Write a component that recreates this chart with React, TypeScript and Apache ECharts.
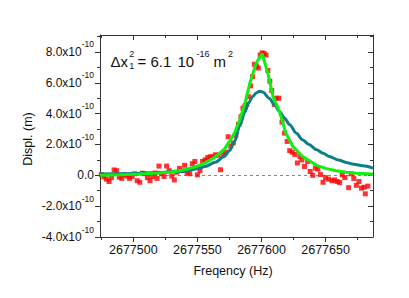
import React, { useEffect, useRef } from "react";
import * as echarts from "echarts";

// Frequency (Hz) and displacement (units of 1e-10 m)
const measured: [number, number][] = [
  [2677475, 0.05], [2677477, -0.1], [2677479, -0.25], [2677481, -0.4], [2677483, -0.15],
  [2677485, 0.35], [2677487, 0.3], [2677489, -0.12], [2677491, -0.2], [2677493, 0.03],
  [2677495, -0.05], [2677497, -0.2], [2677499, -0.08], [2677501, 0.1], [2677503, -0.35],
  [2677505, -0.45], [2677507, 0.14], [2677509, 0.1], [2677511, -0.15], [2677513, -0.35],
  [2677515, -0.08], [2677517, 0.15], [2677518.5, -0.2], [2677520, 0.6], [2677522, 0.1],
  [2677524, -0.08], [2677526, 0.6], [2677528, 0.3], [2677530, -0.05], [2677532, -0.3],
  [2677534, 0.2], [2677536, 0.45], [2677538, 0.3], [2677540, 0.65], [2677542, 0.15],
  [2677544, 0.1], [2677546, 0.75], [2677548, 0.9], [2677550, 0.03], [2677552, 0.3],
  [2677554, 0.9], [2677556, 1.0], [2677558, 1.15], [2677560, 1.2], [2677562, 1.2],
  [2677564, 1.33], [2677566, 1.3], [2677568, 0.36], [2677570, 1.33], [2677572, 1.5],
  [2677574, 2.5], [2677576, 1.9], [2677578, 2.1], [2677580, 2.6], [2677582, 3.3],
  [2677584, 3.8], [2677585.5, 4.35], [2677587, 4.5], [2677588.5, 4.6], [2677590, 5.1],
  [2677591.5, 5.8], [2677593, 6.4], [2677594.5, 7.2], [2677596, 7.1], [2677597.5, 6.96],
  [2677599, 7.8], [2677600.5, 7.94], [2677602, 7.9], [2677603.5, 7.8], [2677605, 6.8],
  [2677606.5, 6.1], [2677608, 5.5], [2677610, 4.6], [2677611.5, 5.0], [2677613.5, 5.0],
  [2677616, 3.45], [2677618, 2.74], [2677620, 2.2], [2677622, 1.6], [2677624, 1.5],
  [2677626, 1.35], [2677628, 0.8], [2677630, 1.22], [2677631.5, 1.0], [2677633.5, 0.57],
  [2677636, 0.9], [2677638, 0.25], [2677640, 0.0], [2677642, 0.47], [2677644, 0.4],
  [2677646, 0.05], [2677648, -0.45], [2677650, -0.15], [2677652.5, -0.25], [2677655, -0.35],
  [2677657, -0.3], [2677659, -0.4], [2677661, -0.47], [2677663, 0.03], [2677665, -0.15],
  [2677668, -0.8], [2677670, 0.1], [2677672, -0.2], [2677674, -0.65], [2677676, -0.4],
  [2677678, -0.83], [2677680, -0.77], [2677681, -1.2], [2677683, -0.7],
];

const fitGreen: [number, number][] = [
  [2677474, 0.0], [2677490, 0.03], [2677505, 0.08], [2677520, 0.15], [2677530, 0.22],
  [2677540, 0.36], [2677550, 0.6], [2677556, 0.8], [2677562, 1.1], [2677567, 1.4],
  [2677571, 1.7], [2677575, 2.2], [2677579, 2.75], [2677583, 3.6], [2677587, 4.65],
  [2677591, 6.0], [2677596, 7.3], [2677600.5, 7.9], [2677605, 6.6], [2677609, 5.1],
  [2677614, 4.15], [2677619, 2.74], [2677624.5, 1.87], [2677632, 1.22], [2677643, 0.65],
  [2677650, 0.45], [2677658, 0.3], [2677666, 0.2], [2677674, 0.14], [2677687, 0.08],
];

const fitTeal: [number, number][] = [
  [2677474, 0.08], [2677500, 0.12], [2677520, 0.18], [2677540, 0.27], [2677550, 0.42],
  [2677556, 0.57], [2677564, 0.85], [2677571, 1.22], [2677575, 1.6], [2677579, 2.2],
  [2677583, 3.2], [2677587, 4.1], [2677590, 4.7], [2677593, 5.1], [2677596, 5.35],
  [2677598.5, 5.45], [2677601, 5.4], [2677606, 5.0], [2677610, 4.6], [2677614, 4.14],
  [2677618, 3.7], [2677622, 3.28], [2677627, 2.75], [2677632, 2.3], [2677637, 2.0],
  [2677643, 1.66], [2677648, 1.43], [2677653, 1.22], [2677660, 1.0], [2677666, 0.83],
  [2677672, 0.72], [2677679, 0.62], [2677687, 0.47],
];

const xMajorTicks = [2677500, 2677550, 2677600, 2677650];
const xMinorTicks = [2677475, 2677525, 2677575, 2677625, 2677675];
const yMajorTicks = [-4, -2, 0, 2, 4, 6, 8];
const yMinorTicks = [-3, -1, 1, 3, 5, 7, 9];

const X_MIN = 2677474;
const X_MAX = 2677687;
const Y_MIN = -4;
const Y_MAX = 9.1;

const FONT = "'Liberation Sans', Arial, sans-serif";
const AXIS_COLOR = "#333";
const TEXT_COLOR = "#111";

export default function App() {
  const ref = useRef<HTMLDivElement>(null);
  useEffect(() => {
    if (!ref.current) return;
    const chart = echarts.init(ref.current, null, { renderer: "svg" });
    const gridPos = { left: 100, right: 36, top: 35, bottom: 61 };
    const mkX = (grid: number, pos: "bottom" | "top", ticks: number[], len: number, inside: boolean, labels: boolean, line: boolean) => ({
      type: "value",
      gridIndex: grid,
      position: pos,
      min: X_MIN,
      max: X_MAX,
      axisLine: { show: line, onZero: false, lineStyle: { color: AXIS_COLOR, width: 1 } },
      axisTick: { show: true, inside, length: len, customValues: ticks, lineStyle: { color: AXIS_COLOR, width: 1 } },
      axisLabel: labels
        ? { show: true, customValues: ticks, margin: 6, fontSize: 12.5, color: TEXT_COLOR, fontFamily: FONT, formatter: (v: number) => String(v) }
        : { show: false },
      splitLine: { show: false },
    });
    const mkY = (grid: number, pos: "left" | "right", ticks: number[], len: number, inside: boolean, labels: boolean, line: boolean) => ({
      type: "value",
      gridIndex: grid,
      position: pos,
      min: Y_MIN,
      max: Y_MAX,
      axisLine: { show: line, onZero: false, lineStyle: { color: AXIS_COLOR, width: 1 } },
      axisTick: { show: true, inside, length: len, customValues: ticks, lineStyle: { color: AXIS_COLOR, width: 1 } },
      axisLabel: labels
        ? {
            show: true,
            customValues: ticks,
            margin: 6,
            fontSize: 12,
            color: TEXT_COLOR,
            fontFamily: FONT,
            formatter: (v: number) => (Math.abs(v) < 1e-9 ? "0.0" : `{a|${v.toFixed(1)}x10}{b|-10}`),
            rich: {
              a: { fontSize: 12, lineHeight: 24, color: TEXT_COLOR, fontFamily: FONT },
              b: { fontSize: 8.5, lineHeight: 9, verticalAlign: "top", color: TEXT_COLOR, fontFamily: FONT },
            },
          }
        : { show: false },
      splitLine: { show: false },
    });

    const txt = (text: string, x: number, y: number, size: number, align = "left") => ({
      type: "text",
      x,
      y,
      silent: true,
      style: { text, fontSize: size, fontFamily: FONT, fill: TEXT_COLOR, align, verticalAlign: "middle" },
    });

    chart.setOption({
      animation: false,
      backgroundColor: "#fff",
      textStyle: { fontFamily: FONT },
      grid: [
        { ...gridPos },
        { ...gridPos },
      ],
      xAxis: [
        mkX(0, "bottom", xMajorTicks, 5, false, true, true),
        mkX(0, "top", xMajorTicks, 5, true, false, true),
        mkX(1, "bottom", xMinorTicks, 3, false, false, false),
        mkX(1, "top", xMinorTicks, 3, true, false, false),
      ],
      yAxis: [
        mkY(0, "left", yMajorTicks, 5, false, true, true),
        mkY(0, "right", yMajorTicks, 5, true, false, true),
        mkY(1, "left", yMinorTicks, 3, false, false, false),
        mkY(1, "right", yMinorTicks, 3, true, false, false),
      ],
      series: [
        {
          type: "scatter",
          xAxisIndex: 0,
          yAxisIndex: 0,
          data: measured,
          symbol: "rect",
          symbolSize: 5,
          itemStyle: { color: "#ff0000" },
          z: 2,
          markLine: {
            silent: true,
            symbol: "none",
            label: { show: false },
            lineStyle: { type: [3, 3], color: "#888", width: 1 },
            data: [{ yAxis: 0 }],
            z: 1,
          },
        },
        {
          type: "line",
          xAxisIndex: 0,
          yAxisIndex: 0,
          data: fitTeal,
          showSymbol: false,
          smooth: 0.3,
          smoothMonotone: "x",
          lineStyle: { color: "#0a7f86", width: 3 },
          itemStyle: { color: "#0a7f86" },
          z: 3,
        },
        {
          type: "line",
          xAxisIndex: 0,
          yAxisIndex: 0,
          data: fitGreen,
          showSymbol: false,
          lineStyle: { color: "#11ee11", width: 3 },
          itemStyle: { color: "#11ee11" },
          z: 4,
        },
      ],
      graphic: [
        txt("\u0394x", 110.5, 61.5, 15),
        txt("2", 129.3, 54, 9),
        txt("1", 129.3, 65.5, 9),
        txt("=", 137.5, 61.5, 15),
        txt("6.1", 150.5, 61.5, 15),
        txt("10", 177.5, 61.5, 15),
        txt("-16", 196.5, 54, 9),
        txt("m", 213.5, 61.5, 15),
        txt("2", 228, 54, 9),
        txt("Freqency (Hz)", 233, 270.5, 12.5, "center"),
        {
          type: "text",
          x: 27.5,
          y: 139,
          rotation: Math.PI / 2,
          silent: true,
          style: { text: "Displ. (m)", fontSize: 12.5, fontFamily: FONT, fill: TEXT_COLOR, align: "center", verticalAlign: "middle" },
        },
      ],
    });
    return () => chart.dispose();
  }, []);
  return <div ref={ref} style={{ position: "fixed", left: 0, top: 0, width: 409, height: 298 }} />;
}
